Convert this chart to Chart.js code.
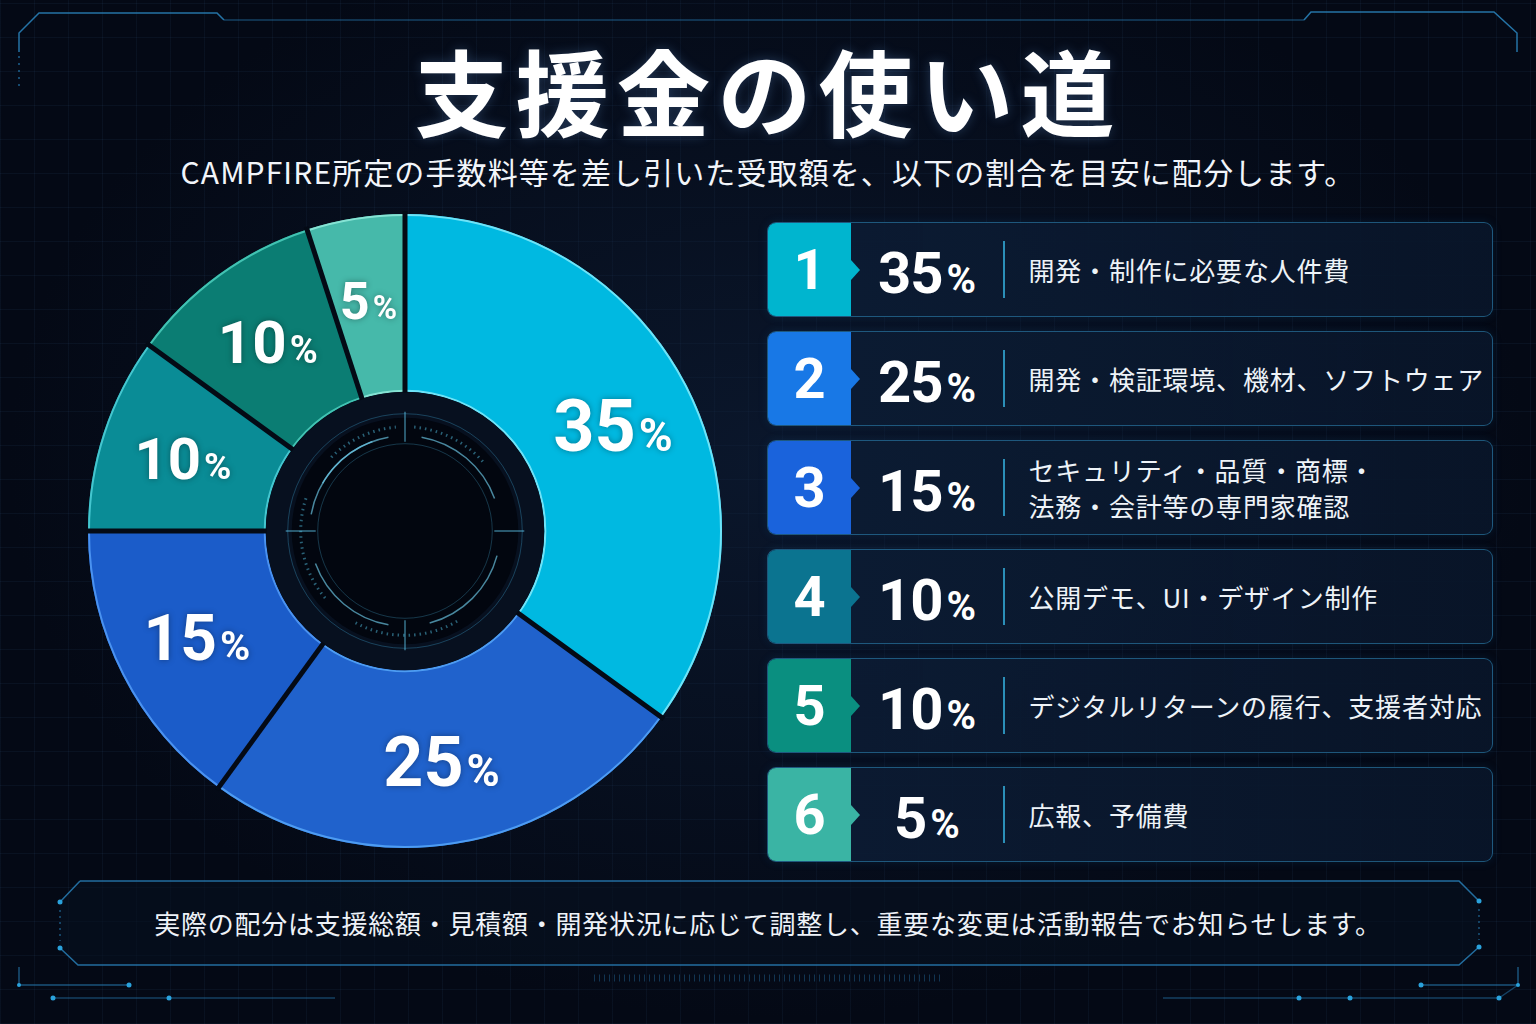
<!DOCTYPE html>
<html lang="ja">
<head>
<meta charset="utf-8">
<script src="https://cdn.jsdelivr.net/npm/chart.js@4.4.1/dist/chart.umd.min.js"></script>
<style>
  html, body { margin: 0; padding: 0; }
  body {
    width: 1536px; height: 1024px; overflow: hidden; position: relative;
    background-color: #040915;
    background-image:
      radial-gradient(ellipse at 50% 45%, rgba(16,34,62,0.55) 0%, rgba(4,9,21,0) 70%),
      repeating-linear-gradient(90deg, rgba(70,125,180,0.075) 0 1px, transparent 1px 34px),
      repeating-linear-gradient(0deg, rgba(70,125,180,0.075) 0 1px, transparent 1px 34px);
    font-family: "Noto Sans CJK JP", "Noto Sans", sans-serif;
    color: #fff;
  }
  #title {
    position: absolute; left: 0; width: 1536px; top: 34px; height: 110px; line-height: 110px;
    text-align: center; font-size: 94px; font-weight: 700; letter-spacing: 7px;
    text-shadow: 0 0 12px rgba(120,180,255,0.25);
  }
  #subtitle {
    position: absolute; left: 0; width: 1536px; top: 151px; height: 40px; line-height: 40px;
    text-align: center; font-size: 30px; font-weight: 400; letter-spacing: 1.1px; color: #f2f5fa;
  }
  #chartWrap { position: absolute; left: 75px; top: 201px; width: 660px; height: 660px; }
  #legend {
    position: absolute; left: 767px; top: 222px; width: 726px;
    display: flex; flex-direction: column; gap: 14px;
  }
  .row {
    height: 95px; box-sizing: border-box; position: relative;
    border: 1.5px solid rgba(48,140,190,0.55); border-radius: 9px;
    background: linear-gradient(90deg, rgba(12,28,52,0.95), rgba(9,22,42,0.92));
    box-shadow: 0 0 10px rgba(20,90,150,0.18);
    display: flex; align-items: center;
  }
  .badge {
    width: 83px; height: 100%; border-radius: 8px 0 0 8px; position: relative;
    display: flex; align-items: center; justify-content: center;
    font-family: Roboto, sans-serif; font-weight: 700; font-size: 56px; color: #fff;
  }
  .arrow {
    position: absolute; right: -9px; top: 50%; margin-top: -10px; width: 0; height: 0;
    border-top: 10px solid transparent; border-bottom: 10px solid transparent; border-left: 9px solid;
  }
  .pct {
    width: 152px; text-align: center; font-family: Roboto, sans-serif; font-weight: 700;
    padding-top: 6px; white-space: nowrap;
  }
  .pct .n { font-size: 58px; letter-spacing: -1px; }
  .pct .p { font-size: 40px; margin-left: 4px; }
  .divider { width: 1.5px; height: 57px; background: #2b8fb8; }
  .desc {
    margin-left: 24px; font-size: 26px; letter-spacing: 0.8px; line-height: 36px; color: #eef3f8;
  }
  #note {
    position: absolute; left: 0; width: 1536px; top: 902px; height: 42px; line-height: 42px;
    text-align: center; font-size: 26px; letter-spacing: 0.75px; color: #eef2f8;
  }
  svg { position: absolute; left: 0; top: 0; pointer-events: none; }
</style>
</head>
<body>
<svg width="1536" height="1024">
  <polygon points="80,881 1459,881 1479,901 1479,947 1459,965 78,965 60,948 60,902" fill="rgba(6,16,32,0.6)" stroke="none"/>
  <g fill="none" stroke="#2a86c0" stroke-width="1.5">
    <path d="M19,52 L19,33 L39,13 L217,13 L224,20" opacity="0.85"/>
    <path d="M1304,20 L1311,12 L1494,12 L1517,33 L1517,52" opacity="0.85"/>
    <line x1="224" y1="20" x2="1304" y2="20" opacity="0.45"/>
    <line x1="19" y1="56" x2="19" y2="86" stroke-dasharray="2 5" opacity="0.7"/>
    <path d="M80,881 L1459,881 L1479,901 M1479,947 L1459,965 L78,965 L60,948 M60,902 L80,881" opacity="0.8"/>
    <line x1="60" y1="910" x2="60" y2="941" stroke-dasharray="2 4" opacity="0.6"/>
    <line x1="1479" y1="909" x2="1479" y2="940" stroke-dasharray="2 4" opacity="0.6"/>
    <path d="M19,967 L19,985 L129,985" opacity="0.6"/>
    <line x1="53" y1="998" x2="335" y2="998" opacity="0.45"/>
    <path d="M1518,967 L1518,985 L1421,985" opacity="0.6"/>
    <path d="M1163,998 L1499,998 L1518,985" opacity="0.45"/>
    <line x1="594" y1="978" x2="940" y2="978" stroke-width="7" stroke-dasharray="1 4" opacity="0.35"/>
  </g>
  <g fill="#2aa2dc">
    <circle cx="60" cy="902" r="2.5"/><circle cx="60" cy="948" r="2.5"/>
    <circle cx="1479" cy="901" r="2.5"/><circle cx="1479" cy="947" r="2.5"/>
    <circle cx="19" cy="985" r="2"/><circle cx="129" cy="985" r="2.5"/>
    <circle cx="53" cy="998" r="2.5"/><circle cx="169" cy="998" r="2.5"/>
    <circle cx="1421" cy="985" r="2.5"/><circle cx="1518" cy="985" r="2"/>
    <circle cx="1299" cy="998" r="2.5"/><circle cx="1350" cy="998" r="2.5"/><circle cx="1499" cy="998" r="2.5"/>
  </g>
</svg>

<div id="title">支援金の使い道</div>
<div id="subtitle">CAMPFIRE所定の手数料等を差し引いた受取額を、以下の割合を目安に配分します。</div>
<div id="chartWrap"><canvas id="pie"></canvas></div>
<div id="legend"></div>
<div id="note">実際の配分は支援総額・見積額・開発状況に応じて調整し、重要な変更は活動報告でお知らせします。</div>

<script>
// 配分データ
const categories = [
	['開発・制作に必要な人件費'],
	['開発・検証環境、機材、ソフトウェア'],
	['セキュリティ・品質・商標・', '法務・会計等の専門家確認'],
	['公開デモ、UI・デザイン制作'],
	['デジタルリターンの履行、支援者対応'],
	['広報、予備費']
];
const shares = [35, 25, 15, 10, 10, 5];

// 見た目
const sliceColors = ['#00b9e1', '#2062cc', '#1b5cc9', '#0a8c96', '#0b7d73', '#46b9aa'];
const edgeColors = ['#6fe3f7', '#4d9cf2', '#4a92f0', '#45c6cf', '#42c2b2', '#86e3d4'];
const badgeColors = ['#00b5cf', '#1878e6', '#1a63dc', '#0b7490', '#0a8f80', '#3ab4a4'];
const labelSizes = [72, 70, 64, 58, 60, 52];

// 凡例 (HTML)
const legend = document.getElementById('legend');
categories.forEach((lines, i) => {
	const row = document.createElement('div');
	row.className = 'row';
	row.innerHTML =
		'<div class="badge" style="background:' + badgeColors[i] + '">' + (i + 1) +
		'<span class="arrow" style="border-left-color:' + badgeColors[i] + '"></span></div>' +
		'<div class="pct"><span class="n">' + shares[i] + '</span><span class="p">%</span></div>' +
		'<div class="divider"></div>' +
		'<div class="desc">' + lines.join('<br>') + '</div>';
	legend.appendChild(row);
});

// 縁取り・区切り線・中央リング
const ringPlugin = {
	id: 'ringDecor',
	afterDatasetsDraw(chart) {
		const ctx = chart.ctx;
		const arcs = chart.getDatasetMeta(0).data;
		const c = arcs[0].getProps(['x', 'y', 'innerRadius', 'outerRadius'], true);
		const cx = c.x, cy = c.y, rIn = c.innerRadius, rOut = c.outerRadius;
		ctx.save();

		arcs.forEach((arc, i) => {
			const p = arc.getProps(['startAngle', 'endAngle'], true);
			ctx.strokeStyle = edgeColors[i];
			ctx.lineWidth = 2;
			ctx.beginPath(); ctx.arc(cx, cy, rOut - 1, p.startAngle, p.endAngle); ctx.stroke();
			ctx.beginPath(); ctx.arc(cx, cy, rIn + 1, p.startAngle, p.endAngle); ctx.stroke();
		});

		// hole
		ctx.fillStyle = '#07101f';
		ctx.beginPath(); ctx.arc(cx, cy, rIn, 0, Math.PI * 2); ctx.fill();
		ctx.fillStyle = '#02060f';
		ctx.beginPath(); ctx.arc(cx, cy, rIn - 26, 0, Math.PI * 2); ctx.fill();

		ctx.strokeStyle = 'rgba(60,160,205,0.35)';
		ctx.lineWidth = 1;
		ctx.beginPath(); ctx.arc(cx, cy, rIn - 22, 0, Math.PI * 2); ctx.stroke();

		const deg = Math.PI / 180;
		ctx.strokeStyle = 'rgba(110,205,235,0.65)';
		ctx.lineWidth = 1.5;
		[[-150, -100], [-80, -20], [15, 75], [100, 160], [190, 250]].forEach(a => {
			ctx.beginPath(); ctx.arc(cx, cy, rIn - 44, a[0] * deg, a[1] * deg); ctx.stroke();
		});
		ctx.strokeStyle = 'rgba(80,185,220,0.5)';
		ctx.lineWidth = 3;
		ctx.setLineDash([1.5, 4]);
		[[-135, -95], [-85, -40], [60, 120], [140, 200]].forEach(a => {
			ctx.beginPath(); ctx.arc(cx, cy, rIn - 35, a[0] * deg, a[1] * deg); ctx.stroke();
		});
		ctx.setLineDash([]);
		ctx.strokeStyle = 'rgba(70,170,210,0.3)';
		ctx.lineWidth = 1;
		ctx.beginPath(); ctx.arc(cx, cy, rIn - 52, 0, Math.PI * 2); ctx.stroke();

		ctx.strokeStyle = 'rgba(90,190,225,0.6)';
		ctx.lineWidth = 1.5;
		for (let k = 0; k < 4; k++) {
			const a = k * Math.PI / 2;
			ctx.beginPath();
			ctx.moveTo(cx + Math.cos(a) * (rIn - 50), cy + Math.sin(a) * (rIn - 50));
			ctx.lineTo(cx + Math.cos(a) * (rIn - 20), cy + Math.sin(a) * (rIn - 20));
			ctx.stroke();
		}

		// separators
		ctx.strokeStyle = '#040a15';
		ctx.lineWidth = 5;
		arcs.forEach(arc => {
			const a = arc.startAngle;
			ctx.beginPath();
			ctx.moveTo(cx + Math.cos(a) * (rIn - 1), cy + Math.sin(a) * (rIn - 1));
			ctx.lineTo(cx + Math.cos(a) * (rOut + 3), cy + Math.sin(a) * (rOut + 3));
			ctx.stroke();
		});
		ctx.restore();
	},
	afterDraw(chart) {
		const ctx = chart.ctx;
		const arcs = chart.getDatasetMeta(0).data;
		ctx.save();
		arcs.forEach((arc, i) => {
			const p = arc.getProps(['x', 'y', 'startAngle', 'endAngle', 'innerRadius', 'outerRadius'], true);
			const mid = (p.startAngle + p.endAngle) / 2;
			const r = p.innerRadius + (p.outerRadius - p.innerRadius) * 0.53;
			const lx = p.x + Math.cos(mid) * r;
			const ly = p.y + Math.sin(mid) * r;
			const s = labelSizes[i];
			const num = String(chart.data.datasets[0].data[i]);
			ctx.font = '700 ' + s + 'px Roboto';
			const w1 = ctx.measureText(num).width;
			ctx.font = '700 ' + Math.round(s * 0.64) + 'px Roboto';
			const w2 = ctx.measureText('%').width;
			const x0 = lx - (w1 + 3 + w2) / 2;
			const base = ly + s * 0.355;
			ctx.fillStyle = '#ffffff';
			ctx.textAlign = 'left';
			ctx.textBaseline = 'alphabetic';
			ctx.shadowColor = 'rgba(0,0,0,0.35)';
			ctx.shadowBlur = 6;
			ctx.font = '700 ' + s + 'px Roboto';
			ctx.fillText(num, x0, base);
			ctx.font = '700 ' + Math.round(s * 0.64) + 'px Roboto';
			ctx.fillText('%', x0 + w1 + 3, base);
		});
		ctx.restore();
	}
};

new Chart('pie', {
	type: 'doughnut',
	data: {
		labels: categories.map(l => l.join('')),
		datasets: [{
			data: shares,
			backgroundColor: sliceColors,
			borderWidth: 0,
			radius: 317,
			cutout: 145
		}]
	},
	options: {
		responsive: true,
		maintainAspectRatio: false,
		animation: false,
		layout: { padding: 0 },
		plugins: {
			legend: { display: false },
			tooltip: { enabled: false }
		}
	},
	plugins: [ringPlugin]
});
</script>
</body>
</html>
